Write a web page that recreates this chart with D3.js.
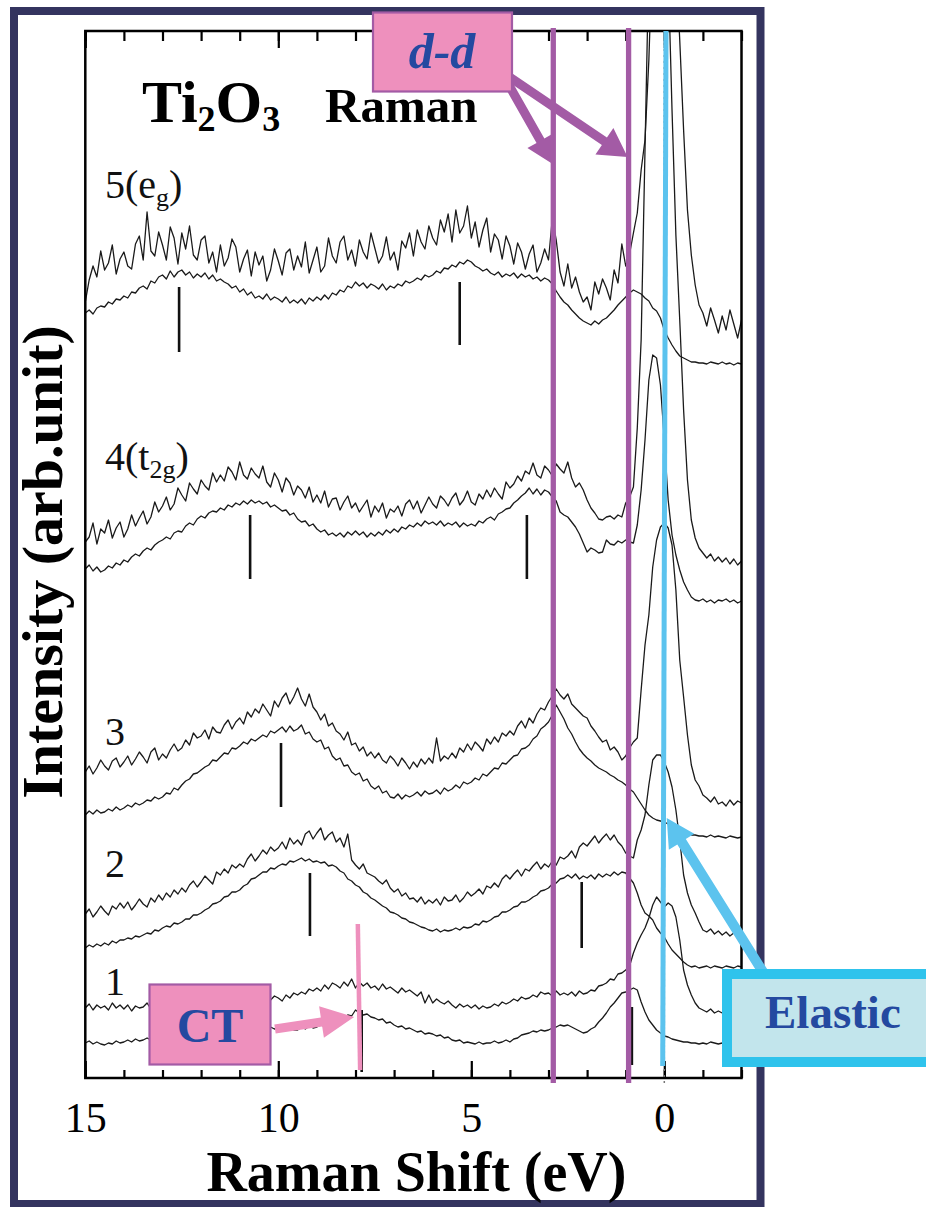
<!DOCTYPE html>
<html>
<head>
<meta charset="utf-8">
<script src="https://cdn.jsdelivr.net/npm/d3@7"></script>
<style>
  body { margin: 0; background: #fff; }
  svg { display: block; }
  text { font-family: "Liberation Serif", "Times New Roman", serif; }
</style>
</head>
<body>
<svg id="chart" width="926" height="1207"></svg>
<script>
// ---- axis ----
const shiftTicks = [15, 10, 5, 0];
const shiftTickLabels = ["15", "10", "5", "0"];
const shiftDomain = [15, -2];
const intensityDomain = [0, 1047];

// spectra sampled from 15 eV down to -2 eV, every 0.1 eV (171 points)
const energyStart = 15, energyStep = 0.1;

const spec5Upper = [776,798,812,801,827, 808,815,833,804,819, 826,812,809,834,842, 818,866,827,822,846,
  833,818,851,840,814, 845,829,852,823,818, 838,842,815,826,806, 833,812,820,839,831,
  806,819,828,802,826, 813,822,797,808,829, 817,803,825,829,808, 822,811,836,805,818,
  831,806,812,840,822, 815,836,842,818,828, 812,838,826,819,845, 830,815,822,841,818,
  826,808,837,830,845, 822,848,836,829,852, 840,833,858,846,864, 836,868,845,852,872,
  840,856,831,848,860, 826,844,838,819,842, 832,814,835,826,809, 824,833,806,815,829,
  818,860,838,806,792, 814,790,801,786,776, 781,768,796,784,799, 790,778,808,795,834,
  812,824,845,865,908, 938,1018,1138,1300,1400, 1400,1350,1250,1120,1038, 948,868,823,793,773,
  765,752,770,758,745, 762,748,768,754,740, 758];
const spec5Lower = [765,768,764,770,772, 771,776,774,779,778, 782,780,786,785,790, 792,789,797,795,801,
  803,799,807,801,806, 808,803,806,800,804, 801,805,799,803,797, 799,796,794,790,792,
  786,789,783,786,780, 782,779,784,778,781, 779,776,781,775,778, 775,779,774,780,777,
  781,778,783,779,785, 783,788,786,792,790, 796,792,795,790,794, 792,789,794,788,792,
  790,794,792,797,795, 797,800,798,803,801, 803,807,805,810,809, 813,811,816,814,818,
  816,812,810,807,809, 805,803,806,801,804, 802,805,800,804,801, 803,799,801,797,800,
  798,794,787,781,776, 773,768,764,760,757, 755,753,757,754,758, 760,764,768,773,777,
  781,785,788,786,784, 780,777,770,767,760, 748,740,733,727,722, 720,718,716,716,715,
  715,714,716,715,714, 716,714,715,713,715, 714];
const spec4Upper = [536,541,555,534,549, 545,558,540,550,556, 541,549,563,552,560, 567,554,561,576,566,
  572,581,568,574,590, 583,577,595,589,584, 598,592,588,605,596, 603,597,611,606,598,
  616,603,599,610,604, 600,612,596,591,605, 598,586,600,595,583, 592,588,580,591,576,
  583,575,587,571,579, 580,568,576,582,570, 575,566,572,578,561, 572,566,575,560,569,
  566,572,562,574,578, 569,577,565,573,581, 574,570,582,578,572, 580,585,573,578,587,
  576,573,584,579,588, 581,590,584,579,596, 590,594,602,597,607, 604,615,603,600,612,
  608,602,614,609,605, 616,600,591,595,588, 578,570,565,559,558, 561,562,559,563,561,
  575,581,591,650,738, 928,1118,1300,1400,1400, 1300,1108,968,843,758, 668,598,558,540,530,
  525,520,524,517,521, 516,520,514,519,513, 517];
const spec4Lower = [509,513,507,511,506, 508,512,510,515,513, 518,516,521,524,522, 527,530,528,533,536,
  538,541,539,545,547, 546,552,555,553,559, 562,560,565,567,566, 570,568,573,571,575,
  573,577,574,578,575, 577,574,576,571,573, 570,567,568,563,565, 559,556,557,552,554,
  549,546,548,543,545, 542,545,541,546,543, 547,543,546,541,545, 542,546,543,548,545,
  549,546,551,549,553, 551,555,552,557,554, 556,553,557,552,555, 553,556,551,555,552,
  554,552,557,555,559, 561,558,564,566,569, 570,575,578,582,585, 590,584,589,583,588,
  586,581,577,566,563, 561,556,551,544,535, 526,530,528,525,526, 538,534,533,537,535,
  538,536,535,553,588, 638,698,723,720,693, 638,578,543,523,508, 496,488,481,478,477,
  479,476,478,475,478, 477,479,476,478,475, 477];
const spec3Upper = [306,312,304,310,318, 312,308,317,320,311, 316,322,313,319,326, 321,315,326,330,318,
  324,320,328,334,327, 330,338,333,345,340, 342,348,339,351,346, 345,353,358,349,356,
  360,354,366,361,369, 365,374,368,362,377, 371,380,385,374,381, 390,379,372,384,371,
  366,358,364,352,355, 347,344,338,346,333, 335,327,331,322,326, 320,325,318,315,322,
  318,312,320,315,309, 316,311,319,314,320, 315,340,317,322,319, 325,320,330,326,334,
  328,336,332,327,339, 334,341,336,345,342, 347,343,352,357,350, 360,355,364,370,368,
  376,382,389,383,379, 384,374,370,366,362, 360,352,347,341,336, 338,328,331,326,318,
  322,330,336,340,388, 433,463,511,538,551, 555,550,533,488,418, 381,343,313,298,292,
  283,280,276,281,274, 276,272,278,273,277, 275];
const spec3Lower = [263,267,264,268,265, 266,269,267,271,268, 270,273,271,275,273, 275,278,277,281,279,
  281,285,284,290,288, 293,297,299,304,305, 308,311,313,318,317, 321,325,324,330,329,
  332,336,334,339,337, 340,343,341,347,345, 348,351,346,352,347, 349,353,344,346,339,
  336,338,329,331,322, 318,320,312,313,306, 303,305,297,299,292, 289,292,285,287,281,
  280,284,279,283,281, 283,286,282,287,284, 285,288,284,290,287, 289,293,290,296,294,
  296,300,298,304,302, 306,310,309,315,314, 318,322,323,329,330, 333,339,342,349,352,
  356,363,373,366,359, 350,344,336,329,324, 320,317,313,310,308, 306,303,301,298,296,
  293,289,286,280,274, 268,263,260,258,257, 256,254,251,249,247, 246,245,243,243,242,
  242,241,243,241,242, 241,240,242,241,240, 241];
const spec2Upper = [164,169,161,166,172, 167,163,172,169,175, 170,176,168,173,179, 174,171,180,176,183,
  178,185,181,188,184, 190,186,193,197,191, 196,202,198,194,206, 203,209,205,213,210,
  214,211,219,224,217, 222,228,224,231,227, 230,236,229,240,234, 238,233,244,247,239,
  245,250,238,243,246, 236,240,231,244,218, 213,209,214,205,203, 201,197,194,198,190,
  186,189,182,185,179, 180,176,181,174,178, 175,179,173,181,177, 178,183,176,180,186,
  182,185,189,184,192, 190,195,191,199,203, 199,204,208,202,209, 207,212,216,209,214,
  211,217,213,221,219, 222,227,220,231,235, 232,237,242,235,240, 244,238,243,236,232,
  225,222,220,238,248, 263,293,318,323,323, 316,306,291,268,238, 203,185,173,165,156,
  148,146,149,144,147, 143,146,142,145,143, 144];
const spec2Lower = [130,133,131,134,132, 135,133,137,135,138, 138,140,139,142,141, 143,145,144,148,147,
  150,152,151,155,154, 156,159,159,163,163, 165,168,170,174,175, 177,181,182,186,186,
  188,192,194,199,200, 203,206,206,210,209, 212,214,213,217,216, 218,220,217,219,216,
  217,215,216,212,213, 211,207,205,199,197, 193,191,186,184,180, 178,175,172,170,166,
  165,163,160,159,156, 155,153,151,150,148, 147,149,146,148,147, 148,150,148,151,150,
  151,154,153,157,156, 158,161,162,166,166, 168,171,172,176,176, 178,181,183,187,188,
  190,194,195,199,200, 203,200,204,199,202, 200,203,199,204,201, 204,202,206,203,206,
  205,200,195,185,173, 165,162,158,150,145, 141,134,128,124,120, 116,113,111,112,110,
  111,112,110,112,111, 110,112,111,110,112, 111];
const spec1Upper = [70,74,68,73,70, 72,68,75,70,73, 69,73,67,72,70, 71,75,69,74,71,
  73,70,75,71,76, 74,71,77,73,76, 75,72,78,74,77, 76,73,79,75,78,
  77,74,80,76,79, 78,75,81,78,82, 80,77,83,80,85, 83,86,84,89,87,
  90,87,93,89,95, 93,90,96,92,99, 90,96,92,95,90, 92,88,94,89,91,
  88,85,90,86,88, 85,82,86,75,83, 75,79,76,74,77, 73,70,74,71,73,
  70,73,69,72,70, 71,74,72,76,74, 76,79,77,81,79, 80,83,81,86,84,
  85,82,87,83,85, 83,86,82,87,84, 85,88,87,92,93, 95,99,98,104,105,
  108,112,125,135,143, 150,160,173,181,176, 171,175,172,161,138, 108,93,83,75,70,
  68,66,69,65,67, 65,67,64,66,65, 65];
const spec1Lower = [35,37,34,36,34, 33,35,34,37,35, 36,38,36,39,37, 38,40,38,41,39,
  40,42,40,43,41, 42,44,42,45,43, 43,45,44,46,44, 45,47,45,48,46,
  46,48,47,49,47, 48,50,48,51,49, 50,52,49,51,48, 48,51,49,52,50,
  51,53,52,56,54, 56,59,58,63,62, 68,65,63,64,61, 60,58,59,55,56,
  53,51,52,49,50, 48,46,47,44,45, 44,42,43,40,41, 38,37,38,35,36,
  35,34,36,34,35, 35,37,35,36,38, 36,39,40,43,44, 45,47,46,48,47,
  48,50,51,53,52, 53,51,49,47,45, 46,49,51,56,60, 65,71,75,80,85,
  86,88,90,88,76, 66,58,53,48,45, 42,41,39,38,37, 36,36,35,35,34,
  35,34,36,35,34, 35,36,34,35,34, 35];

const spectra = [spec5Upper, spec5Lower, spec4Upper, spec4Lower, spec3Upper,
                 spec3Lower, spec2Upper, spec2Lower, spec1Upper, spec1Lower];

// peak markers under each pair: shift (eV), top and bottom intensity
const markerShift  = [12.57, 5.30, 10.73, 3.56, 9.93, 9.18, 2.14, 7.84, 0.84];
const markerTop    = [791, 796, 563, 563, 335, 205, 196, 68, 71];
const markerBottom = [726, 733, 499, 499, 271, 142, 130, 6, 13];

// pair labels: text, sub-script, label baseline intensity
const pairNames = ["5(e", "4(t", "3", "2", "1"];
const pairSubs  = ["g", "2g", "", "", ""];
const pairLevel = [880, 608, 333, 201, 83];

// annotation positions (eV)
const ddShifts = [2.876, 0.925];
const elasticShift = [-0.044, 0.041];  // top, bottom
const ctShift = [7.94, 7.88];          // top, bottom

// ---- drawing ----
const svg = d3.select("#chart");
const plotL = 85.3, plotR = 741.5, plotT = 31, plotB = 1078;

const x = d3.scaleLinear().domain(shiftDomain).range([plotL, plotR]);
const y = d3.scaleLinear().domain(intensityDomain).range([plotB, plotT]);

// outer navy frame
svg.append("rect")
  .attr("x", 14).attr("y", 11).attr("width", 746.5).attr("height", 1193)
  .attr("fill", "#fff").attr("stroke", "#34345f").attr("stroke-width", 8);

svg.append("defs").append("clipPath").attr("id", "plotClip")
  .append("rect").attr("x", plotL).attr("y", plotT)
  .attr("width", plotR - plotL).attr("height", plotB - plotT);

// spectra
const line = d3.line()
  .x((d, i) => x(energyStart - i * energyStep))
  .y(d => y(d));

svg.append("g").attr("clip-path", "url(#plotClip)")
  .selectAll("path").data(spectra).join("path")
  .attr("d", line)
  .attr("fill", "none").attr("stroke", "#1a1a1a")
  .attr("stroke-width", 1.3).attr("stroke-linejoin", "round");

// peak markers
svg.append("g").selectAll("line").data(markerShift).join("line")
  .attr("x1", d => x(d)).attr("x2", d => x(d))
  .attr("y1", (d, i) => y(markerTop[i])).attr("y2", (d, i) => y(markerBottom[i]))
  .attr("stroke", "#111").attr("stroke-width", 2.6);

// axes
const minorTicks = d3.range(-2, 16);
function styleAxis(g) {
  g.select(".domain").remove();
  g.selectAll(".tick line").attr("stroke", "#000").attr("stroke-width", 2.2);
}
svg.append("g").attr("transform", `translate(0,${plotB})`)
  .call(d3.axisBottom(x).tickValues(minorTicks).tickSize(-8).tickSizeOuter(0).tickFormat(""))
  .call(styleAxis);
svg.append("g").attr("transform", `translate(0,${plotB})`)
  .call(d3.axisBottom(x).tickValues(shiftTicks).tickSize(-17).tickSizeOuter(0)
        .tickPadding(24).tickFormat((d, i) => shiftTickLabels[i]))
  .call(styleAxis)
  .call(g => g.selectAll(".tick text")
    .attr("font-size", 42).attr("fill", "#000")
    .attr("font-family", "'Liberation Serif','Times New Roman',serif"));
svg.append("g").attr("transform", `translate(0,${plotT})`)
  .call(d3.axisTop(x).tickValues(minorTicks).tickSize(-10).tickSizeOuter(0).tickFormat(""))
  .call(styleAxis);
svg.append("g").attr("transform", `translate(0,${plotT})`)
  .call(d3.axisTop(x).tickValues(shiftTicks).tickSize(-17).tickSizeOuter(0).tickFormat(""))
  .call(styleAxis);

svg.append("rect")
  .attr("x", plotL).attr("y", plotT).attr("width", plotR - plotL).attr("height", plotB - plotT)
  .attr("fill", "none").attr("stroke", "#000").attr("stroke-width", 2.5);

// dotted guide at zero shift
svg.append("line")
  .attr("x1", x(0)).attr("x2", x(0)).attr("y1", plotT).attr("y2", plotB + 6)
  .attr("stroke", "#777").attr("stroke-width", 1.5).attr("stroke-dasharray", "2,4");

// axis titles
svg.append("text")
  .attr("x", (plotL + plotR) / 2 + 3).attr("y", 1191)
  .attr("text-anchor", "middle").attr("font-size", 56).attr("font-weight", "bold")
  .text("Raman Shift (eV)");
svg.append("text")
  .attr("transform", "translate(62,562) rotate(-90)")
  .attr("text-anchor", "middle").attr("font-size", 58).attr("font-weight", "bold")
  .text("Intensity (arb.unit)");

// chart title
const title = svg.append("text").attr("x", 142).attr("y", 122)
  .attr("font-weight", "bold").attr("font-size", 60);
title.append("tspan").text("Ti");
title.append("tspan").attr("font-size", 36).attr("dy", 9).text("2");
title.append("tspan").attr("dy", -9).text("O");
title.append("tspan").attr("font-size", 36).attr("dy", 9).text("3");
svg.append("text").attr("x", 325).attr("y", 122)
  .attr("font-weight", "bold").attr("font-size", 49).text("Raman");

// pair labels
pairNames.forEach((name, i) => {
  const t = svg.append("text").attr("x", 105).attr("y", y(pairLevel[i]))
    .attr("font-size", 40).attr("fill", "#111");
  t.append("tspan").text(name);
  if (pairSubs[i]) {
    t.append("tspan").attr("font-size", 26).attr("dy", 8).text(pairSubs[i]);
    t.append("tspan").attr("dy", -8).text(")");
  }
});

// ---- annotations ----
const purple = "#a35ba5", pink = "#ee90bd", cyan = "#5cc3ee", navyText = "#2449a0";

function arrowPath(x1, y1, x2, y2, w, hl, hw) {
  const dx = x2 - x1, dy = y2 - y1, L = Math.hypot(dx, dy);
  const ux = dx / L, uy = dy / L, px = -uy, py = ux;
  const bx = x2 - ux * hl, by = y2 - uy * hl;
  const p = [
    [x1 + px * w / 2, y1 + py * w / 2], [bx + px * w / 2, by + py * w / 2],
    [bx + px * hw / 2, by + py * hw / 2], [x2, y2],
    [bx - px * hw / 2, by - py * hw / 2], [bx - px * w / 2, by - py * w / 2],
    [x1 - px * w / 2, y1 - py * w / 2]];
  return "M" + p.map(q => q.join(",")).join("L") + "Z";
}

// d-d guide lines
svg.append("g").selectAll("line").data(ddShifts).join("line")
  .attr("x1", d => x(d)).attr("x2", d => x(d)).attr("y1", 28).attr("y2", 1083)
  .attr("stroke", purple).attr("stroke-width", 5.3);

// elastic guide line
svg.append("line")
  .attr("x1", x(elasticShift[0])).attr("x2", x(elasticShift[1]))
  .attr("y1", plotT).attr("y2", 1066)
  .attr("stroke", cyan).attr("stroke-width", 5);

// CT guide line
svg.append("line")
  .attr("x1", x(ctShift[0])).attr("x2", x(ctShift[1]))
  .attr("y1", 924).attr("y2", 1070)
  .attr("stroke", pink).attr("stroke-width", 4.5);

// d-d arrows and box
svg.append("path").attr("d", arrowPath(506, 80, x(ddShifts[0]) + 1, 165, 9, 28, 30)).attr("fill", purple);
svg.append("path").attr("d", arrowPath(508, 76, x(ddShifts[1]) - 1, 157, 9, 28, 32)).attr("fill", purple);
svg.append("rect").attr("x", 373).attr("y", 12.5).attr("width", 139).attr("height", 79)
  .attr("fill", pink).attr("stroke", purple).attr("stroke-width", 2.2);
svg.append("text").attr("x", 442).attr("y", 68).attr("text-anchor", "middle")
  .attr("font-size", 50).attr("font-weight", "bold").attr("font-style", "italic")
  .attr("fill", navyText).text("d-d");

// elastic arrow and box
svg.append("path").attr("d", arrowPath(763, 972, x(elasticShift[1]) + 4, 818, 10, 28, 30)).attr("fill", cyan);
svg.append("rect").attr("x", 727).attr("y", 974).attr("width", 220).attr("height", 88)
  .attr("fill", "#c2e5ec").attr("stroke", "#2fc3ec").attr("stroke-width", 10);
svg.append("text").attr("x", 765).attr("y", 1028)
  .attr("font-size", 47).attr("font-weight", "bold").attr("fill", navyText).text("Elastic");

// CT arrow and box
svg.append("path").attr("d", arrowPath(275, 1029, x(ctShift[1]) - 6, 1017, 9, 33, 32)).attr("fill", pink);
svg.append("rect").attr("x", 149.5).attr("y", 984.5).attr("width", 121).attr("height", 80)
  .attr("fill", pink).attr("stroke", purple).attr("stroke-width", 2.2);
svg.append("text").attr("x", 210).attr("y", 1042).attr("text-anchor", "middle")
  .attr("font-size", 48).attr("font-weight", "bold").attr("fill", navyText).text("CT");
</script>
</body>
</html>
